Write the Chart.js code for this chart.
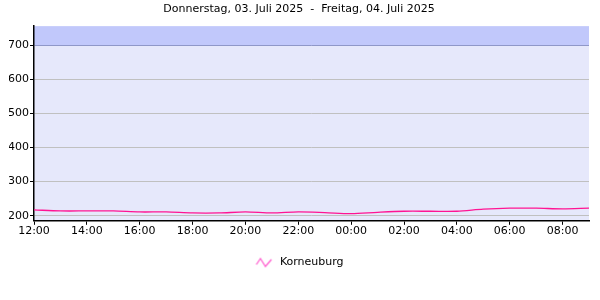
<!DOCTYPE html>
<html>
<head>
<meta charset="utf-8">
<script src="https://cdn.jsdelivr.net/npm/chart.js@4/dist/chart.umd.min.js"></script>
<style>
  html, body { margin: 0; padding: 0; background: #fff; }
</style>
</head>
<body>
<canvas id="chart" width="600" height="300"></canvas>
<script>
// hours since 12:00 on 03.07.
var hours = [0, 1, 2, 3, 4, 5, 6, 7, 8, 9, 10, 11, 12, 13, 14, 15, 16, 17, 18, 19, 20, 21];
var korneuburg = [217, 214, 214, 214, 211, 211, 208, 208, 211, 208, 211, 209, 206, 210, 213, 213, 213, 219, 222, 222, 220, 222];
var xTicks = [0, 2, 4, 6, 8, 10, 12, 14, 16, 18, 20];
var xTickLabels = ["12:00", "14:00", "16:00", "18:00", "20:00", "22:00", "00:00", "02:00", "04:00", "06:00", "08:00"];
var yTicks = [200, 300, 400, 500, 600, 700];
var warnLevel = 700;
var titleText = "Donnerstag, 03. Juli 2025  -  Freitag, 04. Juli 2025";
var seriesName = "Korneuburg";

var points = [];
for (var i = 0; i < hours.length; i++) {
	points.push({ x: hours[i], y: korneuburg[i] });
}

// zigzag legend icon
var icon = document.createElement("canvas");
icon.width = 18;
icon.height = 12;
var ic = icon.getContext("2d");
ic.strokeStyle = "#ff55cc";
ic.lineWidth = 1.2;
ic.beginPath();
ic.moveTo(1, 8);
ic.lineTo(5, 2);
ic.lineTo(10, 10);
ic.lineTo(16, 3);
ic.stroke();

var bgPlugin = {
	id: "bgZones",
	beforeDraw: function(chart) {
		var ctx = chart.ctx;
		var a = chart.chartArea;
		var yw = chart.scales.y.getPixelForValue(warnLevel);
		ctx.save();
		ctx.fillStyle = "#e6e8fb";
		ctx.fillRect(a.left, a.top, a.right - a.left, a.bottom - a.top);
		ctx.fillStyle = "#c1c8fb";
		ctx.fillRect(a.left, a.top, a.right - a.left, yw - a.top);
		ctx.restore();
	}
};

Chart.defaults.font.family = "DejaVu Sans";
Chart.defaults.font.size = 11;
Chart.defaults.color = "#000";

var chart = new Chart(document.getElementById("chart"), {
	type: "line",
	data: {
		datasets: [
			{
				label: seriesName,
				data: points,
				borderColor: "#ff1493",
				backgroundColor: "#ff1493",
				borderWidth: 1.3,
				pointRadius: 0,
				tension: 0.3,
				pointStyle: icon
			}
		]
	},
	options: {
		responsive: false,
		animation: false,
		layout: { padding: { left: 9, right: 11, top: 1, bottom: 22 } },
		plugins: {
			title: {
				display: true,
				text: titleText,
				font: { size: 11, weight: "normal" },
				color: "#000",
				padding: { top: 2, bottom: 10 }
			},
			legend: {
				position: "bottom",
				labels: {
					usePointStyle: true,
					pointStyleWidth: 20,
					color: "#000",
					padding: 19,
					font: { size: 11 }
				}
			},
			tooltip: { enabled: false }
		},
		scales: {
			x: {
				type: "linear",
				min: 0,
				max: 21,
				afterBuildTicks: function(axis) {
					axis.ticks = xTicks.map(function(v) { return { value: v }; });
				},
				ticks: {
					autoSkip: false,
					maxRotation: 0,
					padding: 0,
					callback: function(value) {
						var k = xTicks.indexOf(value);
						return k >= 0 ? xTickLabels[k] : "";
					}
				},
				grid: {
					drawOnChartArea: false,
					tickLength: 4,
					tickColor: "#000"
				},
				border: { color: "#000", width: 1.5 }
			},
			y: {
				min: 185,
				max: 756,
				afterBuildTicks: function(axis) {
					axis.ticks = yTicks.map(function(v) { return { value: v }; });
				},
				afterFit: function(axis) {
					axis.width = 25;
				},
				ticks: { padding: 1 },
				grid: {
					color: function(c) {
						return c.tick && c.tick.value === warnLevel ? "#8f97c8" : "#c0c0c0";
					},
					tickLength: 4,
					tickColor: "#000"
				},
				border: { color: "#000", width: 1.5 }
			}
		}
	},
	plugins: [bgPlugin]
});
</script>
</body>
</html>
